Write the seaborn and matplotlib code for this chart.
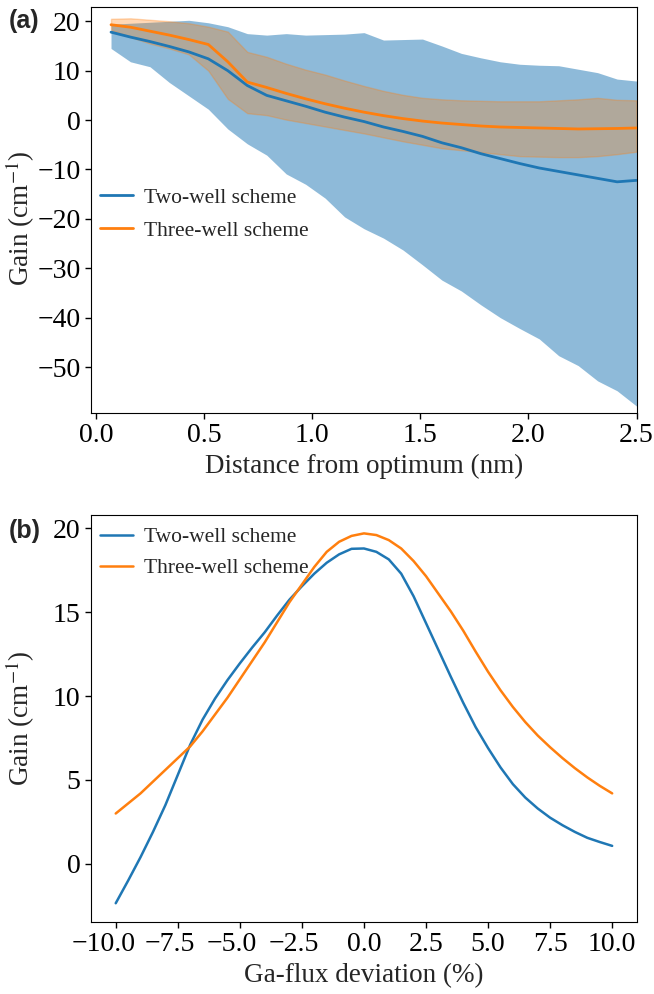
import numpy as np
import pandas as pd
import matplotlib
matplotlib.use("Agg")
import matplotlib.pyplot as plt
import matplotlib.transforms as mtransforms
import seaborn as sns

# ---------------- Panel (a) data ----------------
dist = [0.07, 0.16, 0.25, 0.34, 0.43, 0.52, 0.61, 0.70, 0.79, 0.88, 0.97, 1.06, 1.15, 1.24,
        1.33, 1.42, 1.51, 1.60, 1.69, 1.78, 1.87, 1.96, 2.05, 2.14, 2.23, 2.32, 2.41, 2.50]
two_mean = [17.8, 16.8, 15.9, 14.9, 13.8, 12.4, 10.0, 7.0, 5.0, 3.9, 2.8, 1.6, 0.6, -0.3,
            -1.4, -2.3, -3.3, -4.6, -5.6, -6.8, -7.8, -8.8, -9.7, -10.4, -11.1, -11.8, -12.5, -12.2]
two_upper = [19.4, 19.6, 19.8, 20.0, 20.2, 19.7, 18.9, 17.5, 17.2, 17.5, 17.2, 17.3, 17.4, 17.7,
             16.2, 16.3, 16.4, 15.0, 13.5, 12.6, 11.8, 11.3, 11.1, 11.0, 10.3, 9.6, 8.3, 7.9]
two_lower = [14.5, 11.8, 10.8, 7.6, 4.9, 2.2, -1.8, -4.8, -7.1, -10.9, -13.0, -15.8, -19.6, -22.0,
             -23.9, -26.3, -29.3, -32.4, -34.6, -37.4, -40.0, -42.2, -44.3, -47.7, -49.7, -52.8, -54.8, -57.9]
three_mean = [19.3, 18.8, 18.0, 17.2, 16.3, 15.3, 11.8, 7.7, 6.6, 5.4, 4.3, 3.3, 2.4, 1.6,
              0.9, 0.3, -0.2, -0.6, -0.9, -1.2, -1.4, -1.5, -1.6, -1.7, -1.8, -1.75, -1.7, -1.6]
three_upper = [20.5, 20.6, 20.3, 20.0, 19.6, 18.9, 17.9, 13.8, 12.8, 11.4, 10.2, 9.2, 8.0, 6.9,
               5.9, 5.1, 4.5, 4.2, 4.0, 3.9, 3.8, 3.8, 3.8, 4.0, 4.2, 4.5, 4.1, 4.0]
three_lower = [18.3, 16.8, 15.5, 14.5, 13.3, 10.0, 4.3, 1.4, 1.0, 0.1, -0.6, -1.3, -2.0, -2.7,
               -3.5, -4.3, -5.0, -5.7, -6.1, -6.5, -6.9, -7.3, -7.4, -7.5, -7.5, -7.3, -6.9, -6.4]

# ---------------- Panel (b) data ----------------
flux = [-10.0, -9.5, -9.0, -8.5, -8.0, -7.5, -7.0, -6.5, -6.0, -5.5, -5.0, -4.5, -4.0, -3.5,
        -3.0, -2.5, -2.0, -1.5, -1.0, -0.5, 0.0, 0.5, 1.0, 1.5, 2.0, 2.5, 3.0, 3.5, 4.0, 4.5,
        5.0, 5.5, 6.0, 6.5, 7.0, 7.5, 8.0, 8.5, 9.0, 9.5, 10.0]
two_flux = [-2.35, -1.0, 0.4, 1.9, 3.5, 5.3, 7.1, 8.6, 9.85, 10.95, 11.95, 12.9, 13.8, 14.8,
            15.75, 16.55, 17.3, 17.95, 18.45, 18.78, 18.8, 18.6, 18.15, 17.3, 15.95, 14.35, 12.75, 11.15, 9.6, 8.15,
            6.9, 5.75, 4.75, 3.95, 3.3, 2.75, 2.3, 1.9, 1.55, 1.3, 1.07]
three_flux = [3.0, 3.6, 4.2, 4.9, 5.6, 6.3, 7.0, 7.9, 8.9, 9.9, 11.0, 12.1, 13.2, 14.4,
              15.6, 16.65, 17.7, 18.6, 19.2, 19.55, 19.7, 19.6, 19.3, 18.8, 18.05, 17.15, 16.1, 15.05, 13.9, 12.65,
              11.45, 10.35, 9.35, 8.45, 7.65, 6.95, 6.3, 5.7, 5.15, 4.65, 4.2]

labels = ["Two-well scheme", "Three-well scheme"]
flux_ticks = [-10.0, -7.5, -5.0, -2.5, 0.0, 2.5, 5.0, 7.5, 10.0]
BLUE = "#1f77b4"
ORANGE = "#ff7f0e"

sns.set_style("ticks")
plt.rcParams["font.family"] = ["Liberation Serif", "DejaVu Serif"]
plt.rcParams["mathtext.fontset"] = "stix"
plt.rcParams["axes.edgecolor"] = "black"
plt.rcParams["xtick.color"] = "black"
plt.rcParams["ytick.color"] = "black"

TICK = 20
LAB = 19.5
LEG = 15.5

fig = plt.figure(figsize=(6.54, 9.94), dpi=100)
ax1 = fig.add_axes([0.139, 0.5845, 0.835, 0.4085])
ax2 = fig.add_axes([0.139, 0.0727, 0.835, 0.4093])

# ---- panel (a)
dfa = pd.DataFrame({
    "x": dist * 2,
    "y": two_mean + three_mean,
    "scheme": [labels[0]] * len(dist) + [labels[1]] * len(dist),
})
ax1.fill_between(dist, two_lower, two_upper, color=BLUE, alpha=0.5, linewidth=0, zorder=1)
ax1.fill_between(dist, three_lower, three_upper, facecolor=ORANGE, edgecolor=ORANGE,
                 alpha=0.3, linewidth=1, zorder=2)
sns.lineplot(data=dfa[dfa.scheme == labels[0]], x="x", y="y", color=BLUE, lw=2,
             label=labels[0], ax=ax1, zorder=3)
sns.lineplot(data=dfa[dfa.scheme == labels[1]], x="x", y="y", color=ORANGE, lw=2,
             label=labels[1], ax=ax1, zorder=4)
ax1.set_xlim(-0.023, 2.502)
ax1.set_ylim(-59.3, 22.9)
ax1.set_xticks([0.0, 0.5, 1.0, 1.5, 2.0, 2.5])
ax1.set_yticks([-50, -40, -30, -20, -10, 0, 10, 20])
ax1.set_xlabel("Distance from optimum (nm)", fontsize=LAB)
ax1.set_ylabel("Gain (cm$^{-1}$)", fontsize=LAB)
ax1.yaxis.set_label_coords(-0.099, 0.48)
ax1.tick_params(labelsize=TICK, length=4, width=1)
ax1.legend(loc="center left", bbox_to_anchor=(-0.018, 0.49), frameon=False, fontsize=LEG,
           handlelength=1.5, handletextpad=0.5, labelspacing=0.6)
fig.text(0.013, 0.979, "(a)", fontsize=18, fontweight="bold", family="Liberation Sans",
         va="center", ha="left")

# ---- panel (b)
dfb = pd.DataFrame({
    "x": flux * 2,
    "y": two_flux + three_flux,
    "scheme": [labels[0]] * len(flux) + [labels[1]] * len(flux),
})
sns.lineplot(data=dfb, x="x", y="y", hue="scheme", palette=[BLUE, ORANGE], lw=1.8, ax=ax2)
ax2.set_xticks(flux_ticks)
ax2.set_xticklabels([f"{v:.1f}".replace("-", "\u2212") for v in flux_ticks])
ax2.set_yticks([0, 5, 10, 15, 20])
ax2.set_xlabel("Ga-flux deviation (%)", fontsize=LAB)
ax2.set_ylabel("Gain (cm$^{-1}$)", fontsize=LAB)
ax2.yaxis.set_label_coords(-0.099, 0.5)
ax2.tick_params(labelsize=TICK, length=4, width=1)
# negative tick labels sit slightly left of their ticks in the reference
for v, lab in zip(flux_ticks, ax2.get_xticklabels()):
    if v < 0:
        dx = -12 if v <= -10 else -8
        lab.set_transform(lab.get_transform() +
                          mtransforms.ScaledTranslation(dx / 100, 0, fig.dpi_scale_trans))
ax2.legend(loc="upper left", bbox_to_anchor=(-0.018, 1.017), frameon=False, fontsize=LEG,
           title=None, handlelength=1.5, handletextpad=0.5)
fig.text(0.013, 0.466, "(b)", fontsize=18, fontweight="bold", family="Liberation Sans",
         va="center", ha="left")

fig.savefig("out.png", dpi=100)
